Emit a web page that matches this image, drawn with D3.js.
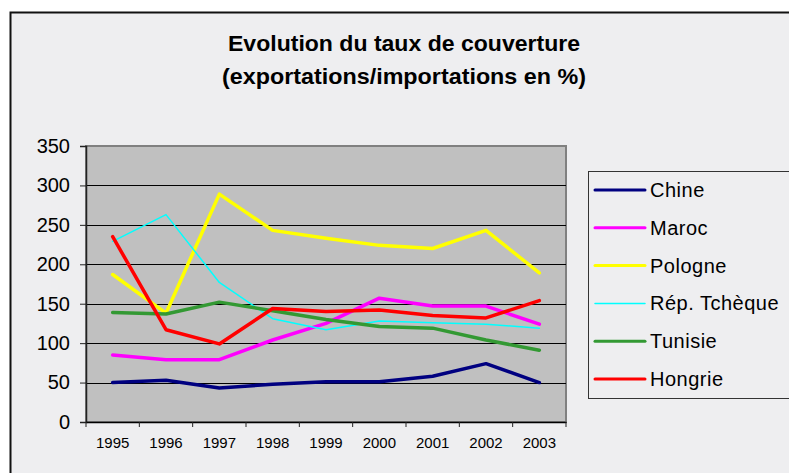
<!DOCTYPE html>
<html>
<head>
<meta charset="utf-8">
<script src="https://cdn.jsdelivr.net/npm/d3@7"></script>
<style>
  body { margin: 0; background: #fff; }
  svg { display: block; font-family: "Liberation Sans", Arial, sans-serif; }
</style>
</head>
<body>
<svg id="chart" width="789" height="473"></svg>
<script>
// years on the x axis
const years = ["1995", "1996", "1997", "1998", "1999", "2000", "2001", "2002", "2003"];
const yTicks = [0, 50, 100, 150, 200, 250, 300, 350];

// taux de couverture per country
const chine      = [50, 53, 43, 48, 51, 51, 58, 74, 50];
const maroc      = [85, 79, 79, 104, 125, 157, 147, 147, 124];
const pologne    = [187, 138, 289, 243, 233, 224, 220, 243, 189];
const repTcheque = [229, 263, 177, 131, 117, 128, 126, 124, 119];
const tunisie    = [139, 137, 152, 141, 130, 121, 119, 104, 91];
const hongrie    = [235, 117, 99, 144, 140, 142, 135, 132, 154];

const seriesNames = ["Chine", "Maroc", "Pologne", "Rép. Tchèque", "Tunisie", "Hongrie"];
const seriesColors = ["#000080", "#ff00ff", "#ffff00", "#00ffff", "#339933", "#ff0000"];
const seriesValues = [chine, maroc, pologne, repTcheque, tunisie, hongrie];

const svg = d3.select("#chart");

// chart frame
svg.append("rect")
  .attr("x", 10.5).attr("y", 12.5)
  .attr("width", 800).attr("height", 500)
  .attr("fill", "#eeeef0")
  .attr("stroke", "#111").attr("stroke-width", 2);

// title
svg.append("text")
  .attr("x", 404).attr("y", 51)
  .attr("text-anchor", "middle")
  .attr("font-weight", "bold").attr("font-size", 22)
  .attr("textLength", 352).attr("lengthAdjust", "spacingAndGlyphs")
  .text("Evolution du taux de couverture");
svg.append("text")
  .attr("x", 404).attr("y", 84)
  .attr("text-anchor", "middle")
  .attr("font-weight", "bold").attr("font-size", 22)
  .attr("textLength", 364).attr("lengthAdjust", "spacingAndGlyphs")
  .text("(exportations/importations en %)");

const plot = { left: 86, top: 146, right: 566, bottom: 422 };

const x = d3.scaleBand().domain(years).range([plot.left, plot.right]);
const y = d3.scaleLinear().domain([0, 350]).range([plot.bottom, plot.top]);

// plot background
svg.append("rect")
  .attr("x", plot.left).attr("y", plot.top)
  .attr("width", plot.right - plot.left).attr("height", plot.bottom - plot.top)
  .attr("fill", "#c0c0c0")
  .attr("stroke", "#808080").attr("stroke-width", 2);

// gridlines
svg.append("g")
  .selectAll("line")
  .data(yTicks.filter(d => d > 0 && d < 350))
  .join("line")
  .attr("x1", plot.left).attr("x2", plot.right)
  .attr("y1", d => Math.round(y(d)) + 0.5).attr("y2", d => Math.round(y(d)) + 0.5)
  .attr("stroke", "#000").attr("stroke-width", 1);

// y axis
const yAxis = svg.append("g")
  .attr("transform", `translate(${plot.left},0)`)
  .call(d3.axisLeft(y).tickValues(yTicks).tickSize(6).tickPadding(10));
yAxis.select(".domain").attr("stroke", "#222").attr("stroke-width", 1.5);
yAxis.selectAll(".tick line").attr("stroke", "#222");
yAxis.selectAll("text").attr("font-size", 20).attr("fill", "#000")
  .attr("font-family", "Liberation Sans, Arial, sans-serif");

// x axis
const xAxis = svg.append("g")
  .attr("transform", `translate(0,${plot.bottom})`)
  .call(d3.axisBottom(x).tickSize(0).tickPadding(15));
xAxis.select(".domain").attr("stroke", "#000").attr("stroke-width", 1.5);
xAxis.selectAll("text").attr("font-size", 15).attr("fill", "#000")
  .attr("font-family", "Liberation Sans, Arial, sans-serif");
// tick marks at band boundaries
svg.append("g")
  .selectAll("line")
  .data(years.concat(["end"]))
  .join("line")
  .attr("x1", (d, i) => plot.left + i * x.step())
  .attr("x2", (d, i) => plot.left + i * x.step())
  .attr("y1", plot.bottom).attr("y2", plot.bottom + 5)
  .attr("stroke", "#222").attr("stroke-width", 1);

// lines
const line = d3.line()
  .x((d, i) => x(years[i]) + x.bandwidth() / 2)
  .y(d => y(d));

svg.append("g")
  .selectAll("path")
  .data(seriesValues)
  .join("path")
  .attr("d", d => line(d))
  .attr("fill", "none")
  .attr("stroke", (d, i) => seriesColors[i])
  .attr("stroke-width", (d, i) => i === 3 ? 1.5 : 3.5)
  .attr("stroke-linejoin", "round")
  .attr("stroke-linecap", "round");

// legend
const legend = svg.append("g");
legend.append("rect")
  .attr("x", 588.5).attr("y", 171.5)
  .attr("width", 220).attr("height", 227)
  .attr("fill", "#eeeef0")
  .attr("stroke", "#333").attr("stroke-width", 1);

const rows = legend.selectAll("g.row")
  .data(seriesNames)
  .join("g")
  .attr("class", "row")
  .attr("transform", (d, i) => `translate(0,${190 + i * 37.8})`);
rows.append("line")
  .attr("x1", 595).attr("x2", 645)
  .attr("stroke", (d, i) => seriesColors[i])
  .attr("stroke-width", (d, i) => i === 3 ? 1.5 : 3)
  .attr("stroke-linecap", "round");
rows.append("text")
  .attr("x", 650).attr("y", 7)
  .attr("font-size", 20)
  .attr("letter-spacing", 0.5)
  .text(d => d);
</script>
</body>
</html>
